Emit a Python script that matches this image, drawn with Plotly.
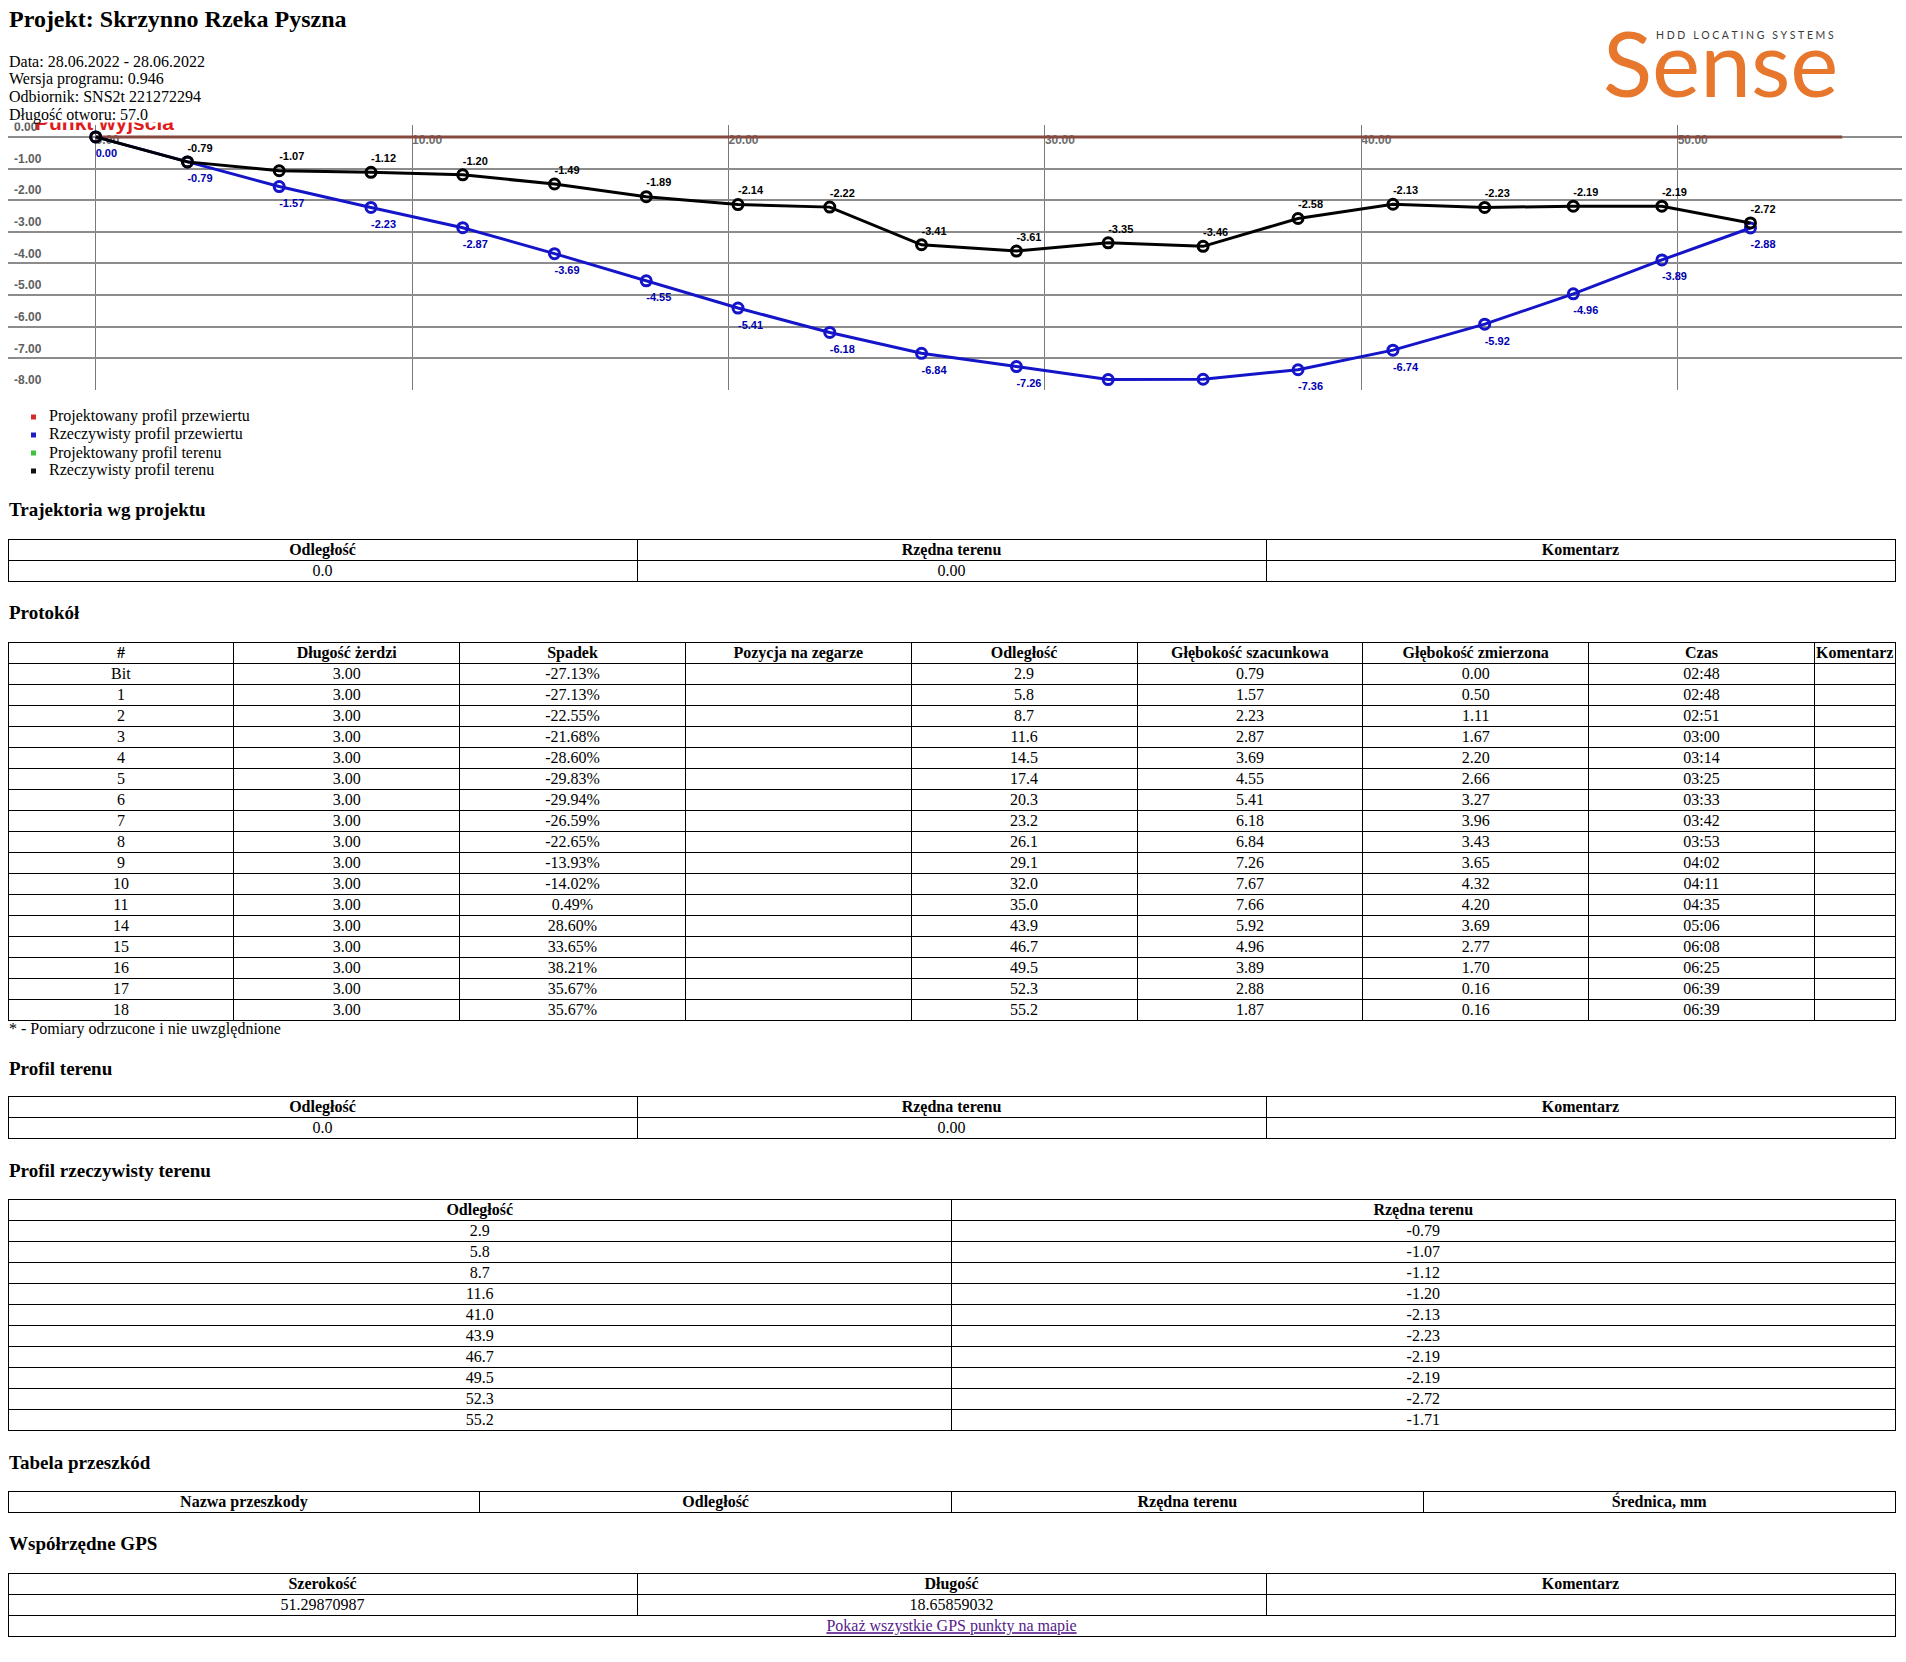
import plotly.graph_objects as go

W, H = 1906, 1662


def PX(x):
    return x / W


def PY(y):
    return 1 - y / H


# ---------------- data ----------------
project_title = "Projekt: Skrzynno Rzeka Pyszna"
info_lines = ["Data: 28.06.2022 - 28.06.2022", "Wersja programu: 0.946",
              "Odbiornik: SNS2t 221272294", "Długość otworu: 57.0"]
start_label = "Punkt wyjścia"

chart_x = [0.0, 2.9, 5.8, 8.7, 11.6, 14.5, 17.4, 20.3, 23.2, 26.1, 29.1,
           32.0, 35.0, 38.0, 41.0, 43.9, 46.7, 49.5, 52.3]
bore_y = [0.00, -0.79, -1.57, -2.23, -2.87, -3.69, -4.55, -5.41, -6.18, -6.84,
          -7.26, -7.67, -7.66, -7.36, -6.74, -5.92, -4.96, -3.89, -2.88]
terrain_y = [0.00, -0.79, -1.07, -1.12, -1.20, -1.49, -1.89, -2.14, -2.22,
             -3.41, -3.61, -3.35, -3.46, -2.58, -2.13, -2.23, -2.19, -2.19, -2.72]
design_x = [0.0, 55.2]
design_y = [0.0, 0.0]
x_ticks = [0, 10, 20, 30, 40, 50]
y_ticks = [0, -1, -2, -3, -4, -5, -6, -7, -8]

legend_names = ["Projektowany profil przewiertu", "Rzeczywisty profil przewiertu",
                "Projektowany profil terenu", "Rzeczywisty profil terenu"]
legend_colors = ["#d42a2a", "#2020c0", "#3cc43c", "#111111"]

traj_header = ["Odległość", "Rzędna terenu", "Komentarz"]
traj_dist = [0.0]
traj_elev = [0.00]
traj_comment = [""]

proto_header = ["#", "Długość żerdzi", "Spadek", "Pozycja na zegarze", "Odległość",
                "Głębokość szacunkowa", "Głębokość zmierzona", "Czas", "Komentarz"]
proto_rod = ["Bit", "1", "2", "3", "4", "5", "6", "7", "8", "9", "10", "11",
             "14", "15", "16", "17", "18"]
proto_len = [3.00, 3.00, 3.00, 3.00, 3.00, 3.00, 3.00, 3.00, 3.00, 3.00, 3.00,
             3.00, 3.00, 3.00, 3.00, 3.00, 3.00]
proto_slope = [-27.13, -27.13, -22.55, -21.68, -28.60, -29.83, -29.94, -26.59,
               -22.65, -13.93, -14.02, 0.49, 28.60, 33.65, 38.21, 35.67, 35.67]
proto_clock = ["", "", "", "", "", "", "", "", "", "", "", "", "", "", "", "", ""]
proto_dist = [2.9, 5.8, 8.7, 11.6, 14.5, 17.4, 20.3, 23.2, 26.1, 29.1, 32.0,
              35.0, 43.9, 46.7, 49.5, 52.3, 55.2]
proto_depth_est = [0.79, 1.57, 2.23, 2.87, 3.69, 4.55, 5.41, 6.18, 6.84, 7.26,
                   7.67, 7.66, 5.92, 4.96, 3.89, 2.88, 1.87]
proto_depth_meas = [0.00, 0.50, 1.11, 1.67, 2.20, 2.66, 3.27, 3.96, 3.43, 3.65,
                    4.32, 4.20, 3.69, 2.77, 1.70, 0.16, 0.16]
proto_time = ["02:48", "02:48", "02:51", "03:00", "03:14", "03:25", "03:33",
              "03:42", "03:53", "04:02", "04:11", "04:35", "05:06", "06:08",
              "06:25", "06:39", "06:39"]
proto_comment = ["", "", "", "", "", "", "", "", "", "", "", "", "", "", "", "", ""]
footnote = "* - Pomiary odrzucone i nie uwzględnione"

terrain_header = ["Odległość", "Rzędna terenu", "Komentarz"]
terrain_dist = [0.0]
terrain_elev = [0.00]
terrain_comment = [""]

real_header = ["Odległość", "Rzędna terenu"]
real_dist = [2.9, 5.8, 8.7, 11.6, 41.0, 43.9, 46.7, 49.5, 52.3, 55.2]
real_elev = [-0.79, -1.07, -1.12, -1.20, -2.13, -2.23, -2.19, -2.19, -2.72, -1.71]

obst_header = ["Nazwa przeszkody", "Odległość", "Rzędna terenu", "Średnica, mm"]

gps_header = ["Szerokość", "Długość", "Komentarz"]
gps_lat = ["51.29870987"]
gps_lon = ["18.65859032"]
gps_comment = [""]
gps_link = "Pokaż wszystkie GPS punkty na mapie"

section_titles = ["Trajektoria wg projektu", "Protokół", "Profil terenu",
                  "Profil rzeczywisty terenu", "Tabela przeszkód", "Współrzędne GPS"]

# ---------------- style ----------------
SERIF = "Liberation Serif"
SANS = "Liberation Sans"
BLUE = "#1414c8"
BLUE_TXT = "#0000b0"
ORANGE = "#e8772e"
S = 31.64            # px per unit (both axes)
X0_PX = 95.7         # pixel of x = 0
PLOT_L, PLOT_R, PLOT_T, PLOT_B = 8, 1902, 125, 390
X_MIN = (PLOT_L - X0_PX) / S
X_MAX = (PLOT_R - X0_PX) / S
Y_MIN = -8.0
Y_MAX = Y_MIN + (PLOT_B - PLOT_T) / S
LBL_UP = 13.0        # black labels above points (px)
LBL_DOWN = 17.7      # blue labels below points (px)

ROW_H = 21
TXT_UP = 4.3
TBL_L = 8
TBL_W = 1887

fig = go.Figure()

# ---------------- chart ----------------
fig.add_trace(go.Scatter(x=design_x, y=design_y, mode="lines",
                         line=dict(color="#86493f", width=3), hoverinfo="skip"))
fig.add_trace(go.Scatter(x=chart_x, y=bore_y, mode="lines+markers",
                         line=dict(color=BLUE, width=3),
                         marker=dict(symbol="circle-open", size=10, color=BLUE,
                                     line=dict(width=3, color=BLUE))))
fig.add_trace(go.Scatter(x=chart_x, y=terrain_y, mode="lines+markers",
                         line=dict(color="black", width=3),
                         marker=dict(symbol="circle-open", size=10, color="black",
                                     line=dict(width=3, color="black"))))
fig.add_trace(go.Scatter(x=chart_x, y=bore_y, yaxis="y3", mode="text",
                         text=[f"{v:.2f}" for v in bore_y], textposition="middle right",
                         textfont=dict(family=SANS, size=11, color=BLUE_TXT, weight="bold"),
                         cliponaxis=True, hoverinfo="skip"))
fig.add_trace(go.Scatter(x=chart_x, y=terrain_y, yaxis="y2", mode="text",
                         text=[f"{v:.2f}" for v in terrain_y], textposition="middle right",
                         textfont=dict(family=SANS, size=11, color="black", weight="bold"),
                         cliponaxis=False, hoverinfo="skip"))


# ---------------- tables ----------------
def nb(s):
    return str(s).replace(" ", "\u00a0")


def add_table(header, columns, widths, top, hfont=None):
    n = len(columns[0]) if columns else 0
    h = ROW_H * (1 + n)
    hv = [nb(s) for s in header]
    cv = [[nb(s) for s in col] for col in columns] if n else [[] for _ in header]
    hf = dict(family=SERIF, size=16, color="black", weight="bold")
    if hfont:
        hf.update(hfont)
    for layer in ("border", "text"):
        shift = 0 if layer == "border" else TXT_UP
        clear = "rgba(0,0,0,0)"
        fill = "white" if layer == "border" else clear
        lc = "black" if layer == "border" else clear
        hfl = dict(hf)
        cfl = dict(family=SERIF, size=16, color="black")
        if layer == "border":
            hfl["color"] = clear
            cfl["color"] = clear
        fig.add_trace(go.Table(
            domain=dict(x=[PX(TBL_L), PX(TBL_L + TBL_W)],
                        y=[PY(top - shift + h + 6), PY(top - shift)]),
            columnwidth=widths,
            header=dict(values=hv, height=ROW_H, align="center", fill_color=fill,
                        line=dict(color=lc, width=1), font=hfl),
            cells=dict(values=cv, height=ROW_H, align="center", fill_color=fill,
                       line=dict(color=lc, width=1), font=cfl)))


w3 = [TBL_W / 3] * 3
add_table(traj_header, [[f"{v:.1f}" for v in traj_dist], [f"{v:.2f}" for v in traj_elev],
                        traj_comment], w3, 539)
add_table(proto_header,
          [proto_rod, [f"{v:.2f}" for v in proto_len], [f"{v:.2f}%" for v in proto_slope],
           proto_clock, [f"{v:.1f}" for v in proto_dist],
           [f"{v:.2f}" for v in proto_depth_est], [f"{v:.2f}" for v in proto_depth_meas],
           proto_time, proto_comment],
          [225.8] * 8 + [TBL_W - 225.8 * 8], 642)
add_table(terrain_header, [[f"{v:.1f}" for v in terrain_dist],
                           [f"{v:.2f}" for v in terrain_elev], terrain_comment], w3, 1096.5)
add_table(real_header, [[f"{v:.1f}" for v in real_dist], [f"{v:.2f}" for v in real_elev]],
          [TBL_W / 2] * 2, 1199.5)
add_table(obst_header, [], [TBL_W / 4] * 4, 1491)
add_table(gps_header, [gps_lat, gps_lon, gps_comment], w3, 1573.5)
add_table([gps_link], [], [TBL_W], 1573.5 + 2 * ROW_H,
          hfont=dict(color="#551a8b", weight="normal", lineposition="under"))


# ---------------- annotations ----------------
def ann(text, x, y, size=16, bold=False, color="black", family=SERIF,
        xanchor="left", yanchor="middle", **kw):
    d = dict(text=text, x=PX(x), y=PY(y), xref="paper", yref="paper",
             xanchor=xanchor, yanchor=yanchor, showarrow=False,
             font=dict(family=family, size=size, color=color,
                       weight="bold" if bold else "normal"))
    d.update(kw)
    return d


annotations = []
shapes = []
annotations.append(ann(project_title, 7, 18.5, size=24, bold=True))
info_y = [61.1, 78.9, 96.7, 114.6]
for t, yy in zip(info_lines, info_y):
    annotations.append(ann(t, 7, yy))

# red start label, partly hidden under the white header block
shapes.append(dict(type="rect", xref="paper", yref="paper", layer="above",
                   x0=PX(32), x1=PX(300), y0=PY(132), y1=PY(105),
                   line=dict(width=0), fillcolor="rgba(0,0,0,0)",
                   label=dict(text="<b>" + start_label + "</b>", textposition="bottom left",
                              padding=0,
                              font=dict(family=SANS, size=21, color="#e01b1b"))))
shapes.append(dict(type="rect", xref="paper", yref="paper", layer="above",
                   x0=0, x1=PX(1400), y0=PY(122.5), y1=PY(100),
                   line=dict(width=0), fillcolor="white"))

# legend list
leg_y = [416.5, 434.5, 452.5, 470.5]
for name, col, yy in zip(legend_names, legend_colors, leg_y):
    annotations.append(ann(name, 47, yy))
    shapes.append(dict(type="rect", xref="paper", yref="paper",
                       x0=PX(31), x1=PX(36), y0=PY(yy + 3.0), y1=PY(yy - 2.0),
                       fillcolor=col, line=dict(width=0)))

sec_y = [510, 612, 1068, 1170, 1462, 1543.5]
for t, yy in zip(section_titles, sec_y):
    annotations.append(ann(t, 7, yy, size=19, bold=True))
annotations.append(ann(footnote, 7, 1029, size=16))

# logo
hdd = "\u2009\u200a\u200a".join(list("HDD LOCATING SYSTEMS"))
annotations.append(ann(hdd, 1654, 35.3, size=10.5, color="#3a3a3a", family="Lato"))
annotations.append(ann("Sense", 1601, 61.5, size=91, color=ORANGE, family="Lato"))

fig.update_layout(
    width=W, height=H, margin=dict(l=0, r=0, t=0, b=0, autoexpand=False),
    paper_bgcolor="white", plot_bgcolor="white", showlegend=False,
    xaxis=dict(domain=[PX(PLOT_L), PX(PLOT_R)], range=[X_MIN, X_MAX], anchor="y",
               automargin=False, layer="below traces",
               tickvals=x_ticks, ticktext=[f"{v:.2f}" for v in x_ticks],
               side="top", ticklabelposition="inside right", ticks="",
               ticklabelstandoff=5, ticklabeloverflow="allow",
               showgrid=True, gridcolor="#7a7a7a", gridwidth=1,
               zeroline=False, showline=False,
               tickfont=dict(family=SANS, size=12, color="#6e6e6e", weight="bold")),
    yaxis=dict(domain=[PY(PLOT_B), PY(PLOT_T)], range=[Y_MIN, Y_MAX], anchor="x",
               automargin=False,
               tickvals=y_ticks, ticktext=[f"{v:.2f}" for v in y_ticks],
               ticklabelposition="inside", ticks="", ticklabelshift=-10,
               ticklabelstandoff=3, ticklabeloverflow="allow",
               showgrid=True, gridcolor="#8c8c8c", gridwidth=1.5,
               zeroline=False, showline=False,
               tickfont=dict(family=SANS, size=12, color="#606060", weight="bold")),
    yaxis2=dict(overlaying="y", anchor="x", visible=False, automargin=False,
                range=[Y_MIN - LBL_UP / S, Y_MAX - LBL_UP / S]),
    yaxis3=dict(overlaying="y", anchor="x", visible=False, automargin=False,
                range=[Y_MIN + LBL_DOWN / S, Y_MAX + LBL_DOWN / S]),
    annotations=annotations,
    shapes=shapes,
)

fig.write_html("out.html", config={"displayModeBar": False},
               post_script="document.body.style.margin='0';document.body.style.overflow='hidden';")
